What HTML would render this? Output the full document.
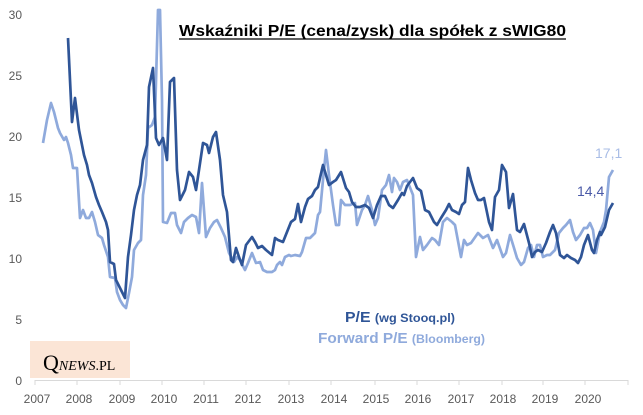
<!DOCTYPE html>
<html><head><meta charset="utf-8"><style>
body{margin:0;background:#fff;}
svg{display:block;font-family:"Liberation Sans",sans-serif;}
</style></head><body>
<svg width="643" height="415" viewBox="0 0 643 415">
<rect width="643" height="415" fill="#fff"/>
<g fill="#595959" font-size="12" text-anchor="end">
<text x="22" y="19">30</text><text x="22" y="80">25</text><text x="22" y="141">20</text>
<text x="22" y="202">15</text><text x="22" y="263">10</text><text x="22" y="324">5</text><text x="22" y="385">0</text>
</g>
<rect x="30" y="341" width="100" height="37" fill="#fbe5d6"/>
<text x="43" y="370" font-family="Liberation Serif,serif" font-size="22" fill="#000">Q<tspan font-size="14" font-style="italic">NEWS</tspan><tspan font-size="14">.PL</tspan></text>
<line x1="35" y1="380.5" x2="628" y2="380.5" stroke="#d9d9d9" stroke-width="1"/>
<g stroke="#d9d9d9">
<line x1="35" y1="380" x2="35" y2="385"/><line x1="77" y1="380" x2="77" y2="385"/><line x1="120" y1="380" x2="120" y2="385"/><line x1="162" y1="380" x2="162" y2="385"/><line x1="204" y1="380" x2="204" y2="385"/><line x1="246" y1="380" x2="246" y2="385"/><line x1="289" y1="380" x2="289" y2="385"/><line x1="331" y1="380" x2="331" y2="385"/><line x1="375" y1="380" x2="375" y2="385"/><line x1="417" y1="380" x2="417" y2="385"/><line x1="459" y1="380" x2="459" y2="385"/><line x1="502" y1="380" x2="502" y2="385"/><line x1="543" y1="380" x2="543" y2="385"/><line x1="585" y1="380" x2="585" y2="385"/><line x1="628" y1="380" x2="628" y2="385"/>
</g>
<g fill="#595959" font-size="12" text-anchor="middle">
<text x="37" y="403">2007</text><text x="79" y="403">2008</text><text x="122" y="403">2009</text><text x="164" y="403">2010</text><text x="206" y="403">2011</text><text x="248" y="403">2012</text><text x="291" y="403">2013</text><text x="334" y="403">2014</text><text x="376" y="403">2015</text><text x="418" y="403">2016</text><text x="461" y="403">2017</text><text x="503" y="403">2018</text><text x="545" y="403">2019</text><text x="588" y="403">2020</text>
</g>
<polyline fill="none" stroke="#8faadc" stroke-width="2.7" stroke-linejoin="round" points="43,143 47,120 51,103 54,112 58,128 60,133 64,140 66,137 68,143 71,155 73,168 77,168 80,218 83,210 86,218 89,218 92,212 95,222 98,235 102,238 104,245 108,257 110,277 115,278 117,292 120,300 123,305 126,308 129,293 132,277 134,250 138,243 141,240 143,195 146,175 148,128 152,125 155,117 158,10 160,10 162,100 163,222 167,223 171,213 175,213 177,225 181,233 184,222 188,218 192,215 196,217 199,233 202,183 206,237 210,228 214,222 217,220 221,228 225,237 229,253 234,262 237,257 240,260 245,270 248,263 252,253 256,263 260,262 263,270 267,272 272,272 275,270 277,265 280,262 282,265 285,257 289,255 291,256 295,255 300,256 302,252 306,238 310,238 315,233 318,215 320,212 323,180 326,150 329,175 333,205 336,225 339,225 341,200 345,205 350,205 355,203 357,225 362,210 365,205 368,196 372,210 375,225 378,218 382,190 386,185 389,175 392,192 394,178 397,182 400,190 403,182 407,180 409,185 413,195 416,257 420,237 423,250 427,245 432,238 435,240 439,245 443,222 447,218 452,222 455,225 461,257 464,240 467,245 471,243 478,233 483,238 488,235 493,248 497,240 503,257 506,253 510,235 514,248 517,258 521,265 524,262 528,248 531,245 534,257 537,245 540,245 543,257 547,255 550,255 555,250 559,233 563,228 566,225 570,220 573,232 576,240 580,235 584,228 587,228 590,223 593,230 596,253 600,232 604,222 606,210 609,177 613,170"/>
<polyline fill="none" stroke="#2f5597" stroke-width="2.7" stroke-linejoin="round" points="68,38 72,122 75,98 79,130 84,155 87,165 89,175 92,183 96,197 99,205 102,212 106,222 108,230 110,262 114,264 116,280 120,288 125,298 128,257 131,235 134,210 137,195 140,185 143,160 147,145 149,87 153,68 156,138 159,145 163,138 167,160 170,82 174,78 177,170 180,200 185,190 189,172 193,177 196,190 199,170 203,143 207,145 209,153 213,137 216,132 220,160 223,195 227,212 231,260 233,262 236,248 239,257 242,265 246,245 252,237 255,242 258,248 262,246 266,250 272,255 275,238 278,240 283,242 287,232 291,222 295,219 298,204 301,222 305,207 308,199 312,196 315,190 318,187 320,178 323,165 329,185 333,182 336,180 341,172 346,188 349,192 352,202 356,207 360,207 365,205 369,208 373,218 377,205 381,196 385,196 389,205 393,208 398,200 402,193 404,195 407,186 413,178 417,188 421,191 425,210 429,212 434,222 437,225 441,218 446,210 449,204 452,210 456,212 459,214 462,205 465,202 468,168 471,180 475,193 478,200 481,200 484,198 489,222 492,230 495,197 499,190 502,165 506,172 509,208 513,194 517,230 520,232 524,224 529,243 532,257 535,252 538,250 542,252 546,243 550,232 553,225 556,233 560,255 564,258 567,255 571,258 575,260 578,263 581,257 584,245 588,235 592,250 594,253 597,240 600,232 601,235 605,227 609,210 613,203"/>
<text x="179" y="36" font-size="16" font-weight="bold" fill="#000" textLength="387" lengthAdjust="spacingAndGlyphs">Wskaźniki P/E (cena/zysk) dla spółek z sWIG80</text>
<line x1="179" y1="39" x2="566" y2="39" stroke="#000" stroke-width="1.2"/>
<text x="345" y="322" fill="#2f5597" font-size="15" font-weight="bold" textLength="110" lengthAdjust="spacingAndGlyphs">P/E <tspan font-size="12">(wg Stooq.pl)</tspan></text>
<text x="318" y="343" fill="#8faadc" font-size="15" font-weight="bold" textLength="167" lengthAdjust="spacingAndGlyphs">Forward P/E <tspan font-size="12">(Bloomberg)</tspan></text>
<text x="577" y="196" fill="#4a5aa8" font-size="14">14,4</text>
<text x="595" y="158" fill="#a9bde6" font-size="14">17,1</text>
</svg>
</body></html>
